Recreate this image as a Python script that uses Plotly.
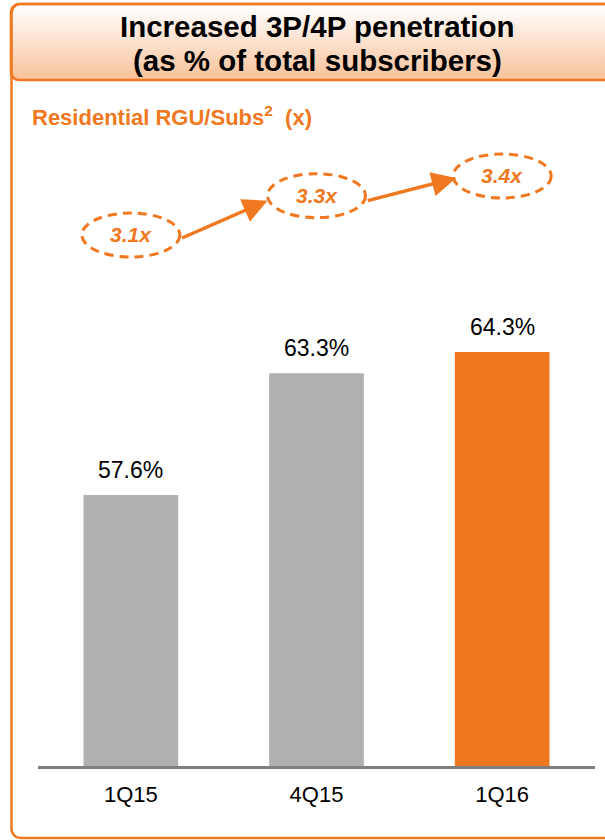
import numpy as np
import plotly.graph_objects as go

# ---- data ----
quarters = ["1Q15", "4Q15", "1Q16"]
penetration = [57.6, 63.3, 64.3]          # 3P/4P penetration, % of total subscribers
rgu_per_sub = [3.1, 3.3, 3.4]             # residential RGU per subscriber (x)
bar_colors = ["#b0b0b0", "#b0b0b0", "#f07820"]

W, H = 605, 840
ORANGE = "#f07820"
FONT = "Liberation Sans, Arial, sans-serif"


def px(x):
    return x / W


def py(y):
    return 1 - y / H


def rounded_path(x0, y0, x1, y1, r, n=8):
    """Rounded-left rectangle outline as point lists (right side extends off-page)."""
    xs, ys = [], []
    # top-left corner
    for t in np.linspace(np.pi, 1.5 * np.pi, n):
        xs.append(x0 + r + r * np.cos(t)); ys.append(y0 + r + r * np.sin(t))
    xs += [x1, x1]; ys += [y0, y1]
    # bottom-left corner
    for t in np.linspace(0.5 * np.pi, np.pi, n):
        xs.append(x0 + r + r * np.cos(t)); ys.append(y1 - r + r * np.sin(t))
    xs.append(xs[0]); ys.append(ys[0])
    return xs, ys


fig = go.Figure()

# bars
fig.add_trace(go.Bar(
    x=list(range(len(quarters))), y=penetration,
    marker=dict(color=bar_colors, line=dict(width=0)),
    width=0.51, xaxis="x", yaxis="y", showlegend=False, hoverinfo="skip",
))

# invisible anchor points for the RGU/Subs bubbles
fig.add_trace(go.Scatter(
    x=list(range(len(quarters))), y=rgu_per_sub, mode="markers",
    marker=dict(size=1, color="rgba(0,0,0,0)"),
    xaxis="x", yaxis="y2", showlegend=False, hoverinfo="skip",
))

# header panel with vertical gradient
hx, hy = rounded_path(11, 4, 625, 80, 8)
fig.add_trace(go.Scatter(
    x=hx, y=hy, mode="lines", fill="toself",
    line=dict(color=ORANGE, width=2.5),
    fillgradient=dict(type="vertical", start=6, stop=80,
                      colorscale=[[0, "#ffffff"], [0.45, "#fce3d1"], [1, "#f8c19a"]]),
    xaxis="x3", yaxis="y3", showlegend=False, hoverinfo="skip",
))

# outer frame
fx, fy = rounded_path(11.5, 4, 625, 838, 9)
fig.add_trace(go.Scatter(
    x=fx, y=fy, mode="lines", line=dict(color=ORANGE, width=2.5),
    xaxis="x3", yaxis="y3", showlegend=False, hoverinfo="skip",
))

shapes = []
annotations = []

# dashed ellipses around each RGU/Subs value
for i, v in enumerate(rgu_per_sub):
    shapes.append(dict(
        type="circle", xref="x", yref="y2",
        xsizemode="pixel", ysizemode="pixel", xanchor=i, yanchor=v,
        x0=-49, x1=49, y0=-22, y1=22,
        line=dict(color=ORANGE, width=3, dash="9px,6px"),
        fillcolor="rgba(0,0,0,0)",
    ))
    annotations.append(dict(
        x=i, y=v, xref="x", yref="y2", text=f"<b><i>{v:.1f}x</i></b>",
        showarrow=False, font=dict(family=FONT, size=21, color=ORANGE),
        xanchor="center", yanchor="middle",
    ))

# arrows between bubbles
arrow_geom = [(-49, -5, -87, 38), (-46, -2, -90, 23)]
for k, (xs, ys, ax, ay) in enumerate(arrow_geom):
    annotations.append(dict(
        x=k + 1, y=rgu_per_sub[k + 1], xref="x", yref="y2", text="",
        showarrow=True, arrowhead=2, arrowsize=1.4, arrowwidth=3.5,
        arrowcolor=ORANGE, ax=ax, ay=ay, xshift=xs, yshift=ys,
    ))

# value labels above bars
for i, v in enumerate(penetration):
    annotations.append(dict(
        x=i, y=v, xref="x", yref="y", text=f"{v:.1f}%",
        showarrow=False, yanchor="bottom", yshift=10,
        font=dict(family=FONT, size=23, color="#000000"),
    ))

# titles
annotations += [
    dict(x=px(317), y=py(26), xref="paper", yref="paper",
         text="<b>Increased 3P/4P penetration</b>", showarrow=False,
         font=dict(family=FONT, size=29.5, color="#000000"), yanchor="middle"),
    dict(x=px(317), y=py(61), xref="paper", yref="paper",
         text="<b>(as % of total subscribers)</b>", showarrow=False,
         font=dict(family=FONT, size=29.5, color="#000000"), yanchor="middle"),
    dict(x=px(30), y=py(116), xref="paper", yref="paper", xanchor="left",
         text="<b>Residential RGU/Subs<sup>2</sup>  (x)</b>",
         showarrow=False,
         font=dict(family=FONT, size=22, color=ORANGE), yanchor="middle"),
]

# value axis mapping: baseline at 44.9, ~21.34 px per percentage point
y_top_px, y_bot_px = 140, 766
y_lo = 44.9
y_hi = y_lo + (y_bot_px - y_top_px) / 21.34
# RGU axis mapping
r_scale = 196.7
r_lo = 3.1 - (y_bot_px - 235) / r_scale
r_hi = 3.1 + (235 - y_top_px) / r_scale

fig.update_layout(
    width=W, height=H,
    margin=dict(l=0, r=0, t=0, b=0),
    paper_bgcolor="white", plot_bgcolor="rgba(0,0,0,0)",
    font=dict(family=FONT),
    xaxis=dict(
        domain=[px(38), px(595)], range=[-0.5, 2.5],
        tickmode="array", tickvals=list(range(len(quarters))), ticktext=quarters,
        tickfont=dict(family=FONT, size=22, color="#000000"),
        showline=True, linecolor="#7f7f7f", linewidth=2.5,
        ticks="outside", ticklen=7, tickcolor="rgba(0,0,0,0)",
        showgrid=False, zeroline=False, fixedrange=True, anchor="y",
    ),
    yaxis=dict(
        domain=[py(y_bot_px), py(y_top_px)], range=[y_lo, y_hi],
        visible=False, showgrid=False, zeroline=False, fixedrange=True,
    ),
    yaxis2=dict(
        domain=[py(y_bot_px), py(y_top_px)], range=[r_lo, r_hi],
        overlaying="y", visible=False, showgrid=False, zeroline=False,
    ),
    xaxis3=dict(domain=[0, 1], range=[0, W], visible=False, anchor="y3",
                fixedrange=True),
    yaxis3=dict(domain=[0, 1], range=[H, 0], visible=False, anchor="x3",
                fixedrange=True),
    shapes=shapes,
    annotations=annotations,
)

fig.write_html("out.html", config={"displayModeBar": False})
